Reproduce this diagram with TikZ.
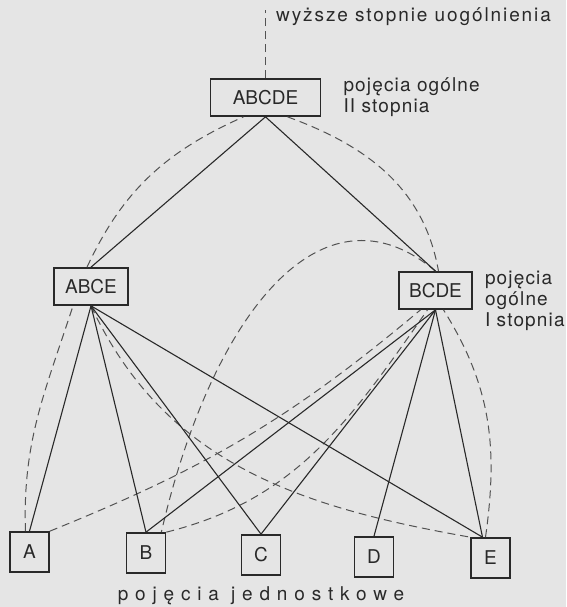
\documentclass[tikz,border=0pt]{standalone}
\usepackage{fontspec}
\setmainfont{TeX Gyre Heros}
\newfontfamily\spaced[LetterSpace=6]{TeX Gyre Heros}
\newfontfamily\spacedmore[LetterSpace=10]{TeX Gyre Heros}
\newfontfamily\widespaced[LetterSpace=36]{TeX Gyre Heros}
\usetikzlibrary{positioning}
\definecolor{paper}{gray}{0.9}
\definecolor{ink}{gray}{0.16}
\definecolor{pencil}{gray}{0.32}

\begin{document}
\begin{tikzpicture}[x=1pt,y=-1pt]
\tikzset{concept/.style={draw=ink,line width=1.7pt,text=ink,minimum height=37pt,inner sep=0pt,font=\fontsize{19}{21}\selectfont}}
\tikzset{single/.style={concept,minimum width=39pt,minimum height=40pt}}
\tikzset{link/.style={draw=ink,line width=1.1pt}}
\tikzset{loose/.style={draw=pencil,line width=1pt,dash pattern=on 8pt off 5pt}}
\tikzset{caption/.style={text=ink,align=left,inner sep=0pt,font=\spaced\fontsize{19}{21}\selectfont}}
\fill[paper,use as bounding box] (0,0) rectangle (566,607);
\node[concept,minimum width=110pt] (ABCDE) at (265.5,97.5) {ABCDE};
\node[concept,minimum width=74pt] (ABCE) at (91,286.5) {ABCE};
\node[concept,minimum width=73pt] (BCDE) at (435.5,290.5) {BCDE};
\node[single] (A) at (29.5,552) {A};
\node[single] (B) at (146,553) {B};
\node[single] (C) at (261,555) {C};
\node[single] (D) at (374,557) {D};
\node[single] (E) at (490.5,558) {E};
\coordinate (up) at (265.5,10);
\node[caption,font=\spacedmore\fontsize{19}{21}\selectfont,anchor=west] (higher) at (276,17) {wyższe stopnie uogólnienia};
\node[caption,right=22pt of ABCDE] (second) {pojęcia ogólne\\II stopnia};
\node[caption,right=12pt of BCDE,yshift=-10pt] (first) {pojęcia\\ogólne\\I stopnia};
\node[caption,font=\widespaced\fontsize{19}{21}\selectfont,below=11pt of C] (units) {pojęcia jednostkowe};
\draw[loose] (ABCDE) -- (up);
\draw[loose] ([xshift=-4pt]ABCE.north) to[out=65,in=204] ([xshift=-22pt]ABCDE.south);
\draw[loose] ([xshift=22pt]ABCDE.south) to[out=-20,in=100] ([xshift=3pt]BCDE.north);
\draw[loose] (BCDE.north) .. controls +(140:150pt) and +(77:220pt) .. ([xshift=-5pt]B.north east);
\draw[loose] ([xshift=-4pt]A.north) to[out=92,in=-108] ([xshift=-18pt]ABCE.south);
\draw[loose] ([xshift=-5pt]E.north) to[out=82,in=-58] ([xshift=8pt]BCDE.south);
\draw[loose] (ABCE.south) to[out=-65,in=170] (E.north west);
\draw[loose] (A.north east) to[out=22,in=220] ([xshift=-15pt]BCDE.south);
\draw[loose] (B.north east) to[out=14,in=235] ([xshift=-8pt]BCDE.south);
\draw[link] (ABCDE.south) -- (ABCE.north);
\draw[link] (ABCDE.south) -- (BCDE.north);
\foreach \x in {A,B,C} \draw[link] (ABCE.south) -- (\x.north);
\foreach \x in {B,C,D} \draw[link] (BCDE.south) -- (\x.north);
\draw[link] (ABCE.south) -- ([xshift=-8pt]E.north);
\draw[link] (BCDE.south) -- ([xshift=-8pt]E.north);
\end{tikzpicture}
\end{document}
